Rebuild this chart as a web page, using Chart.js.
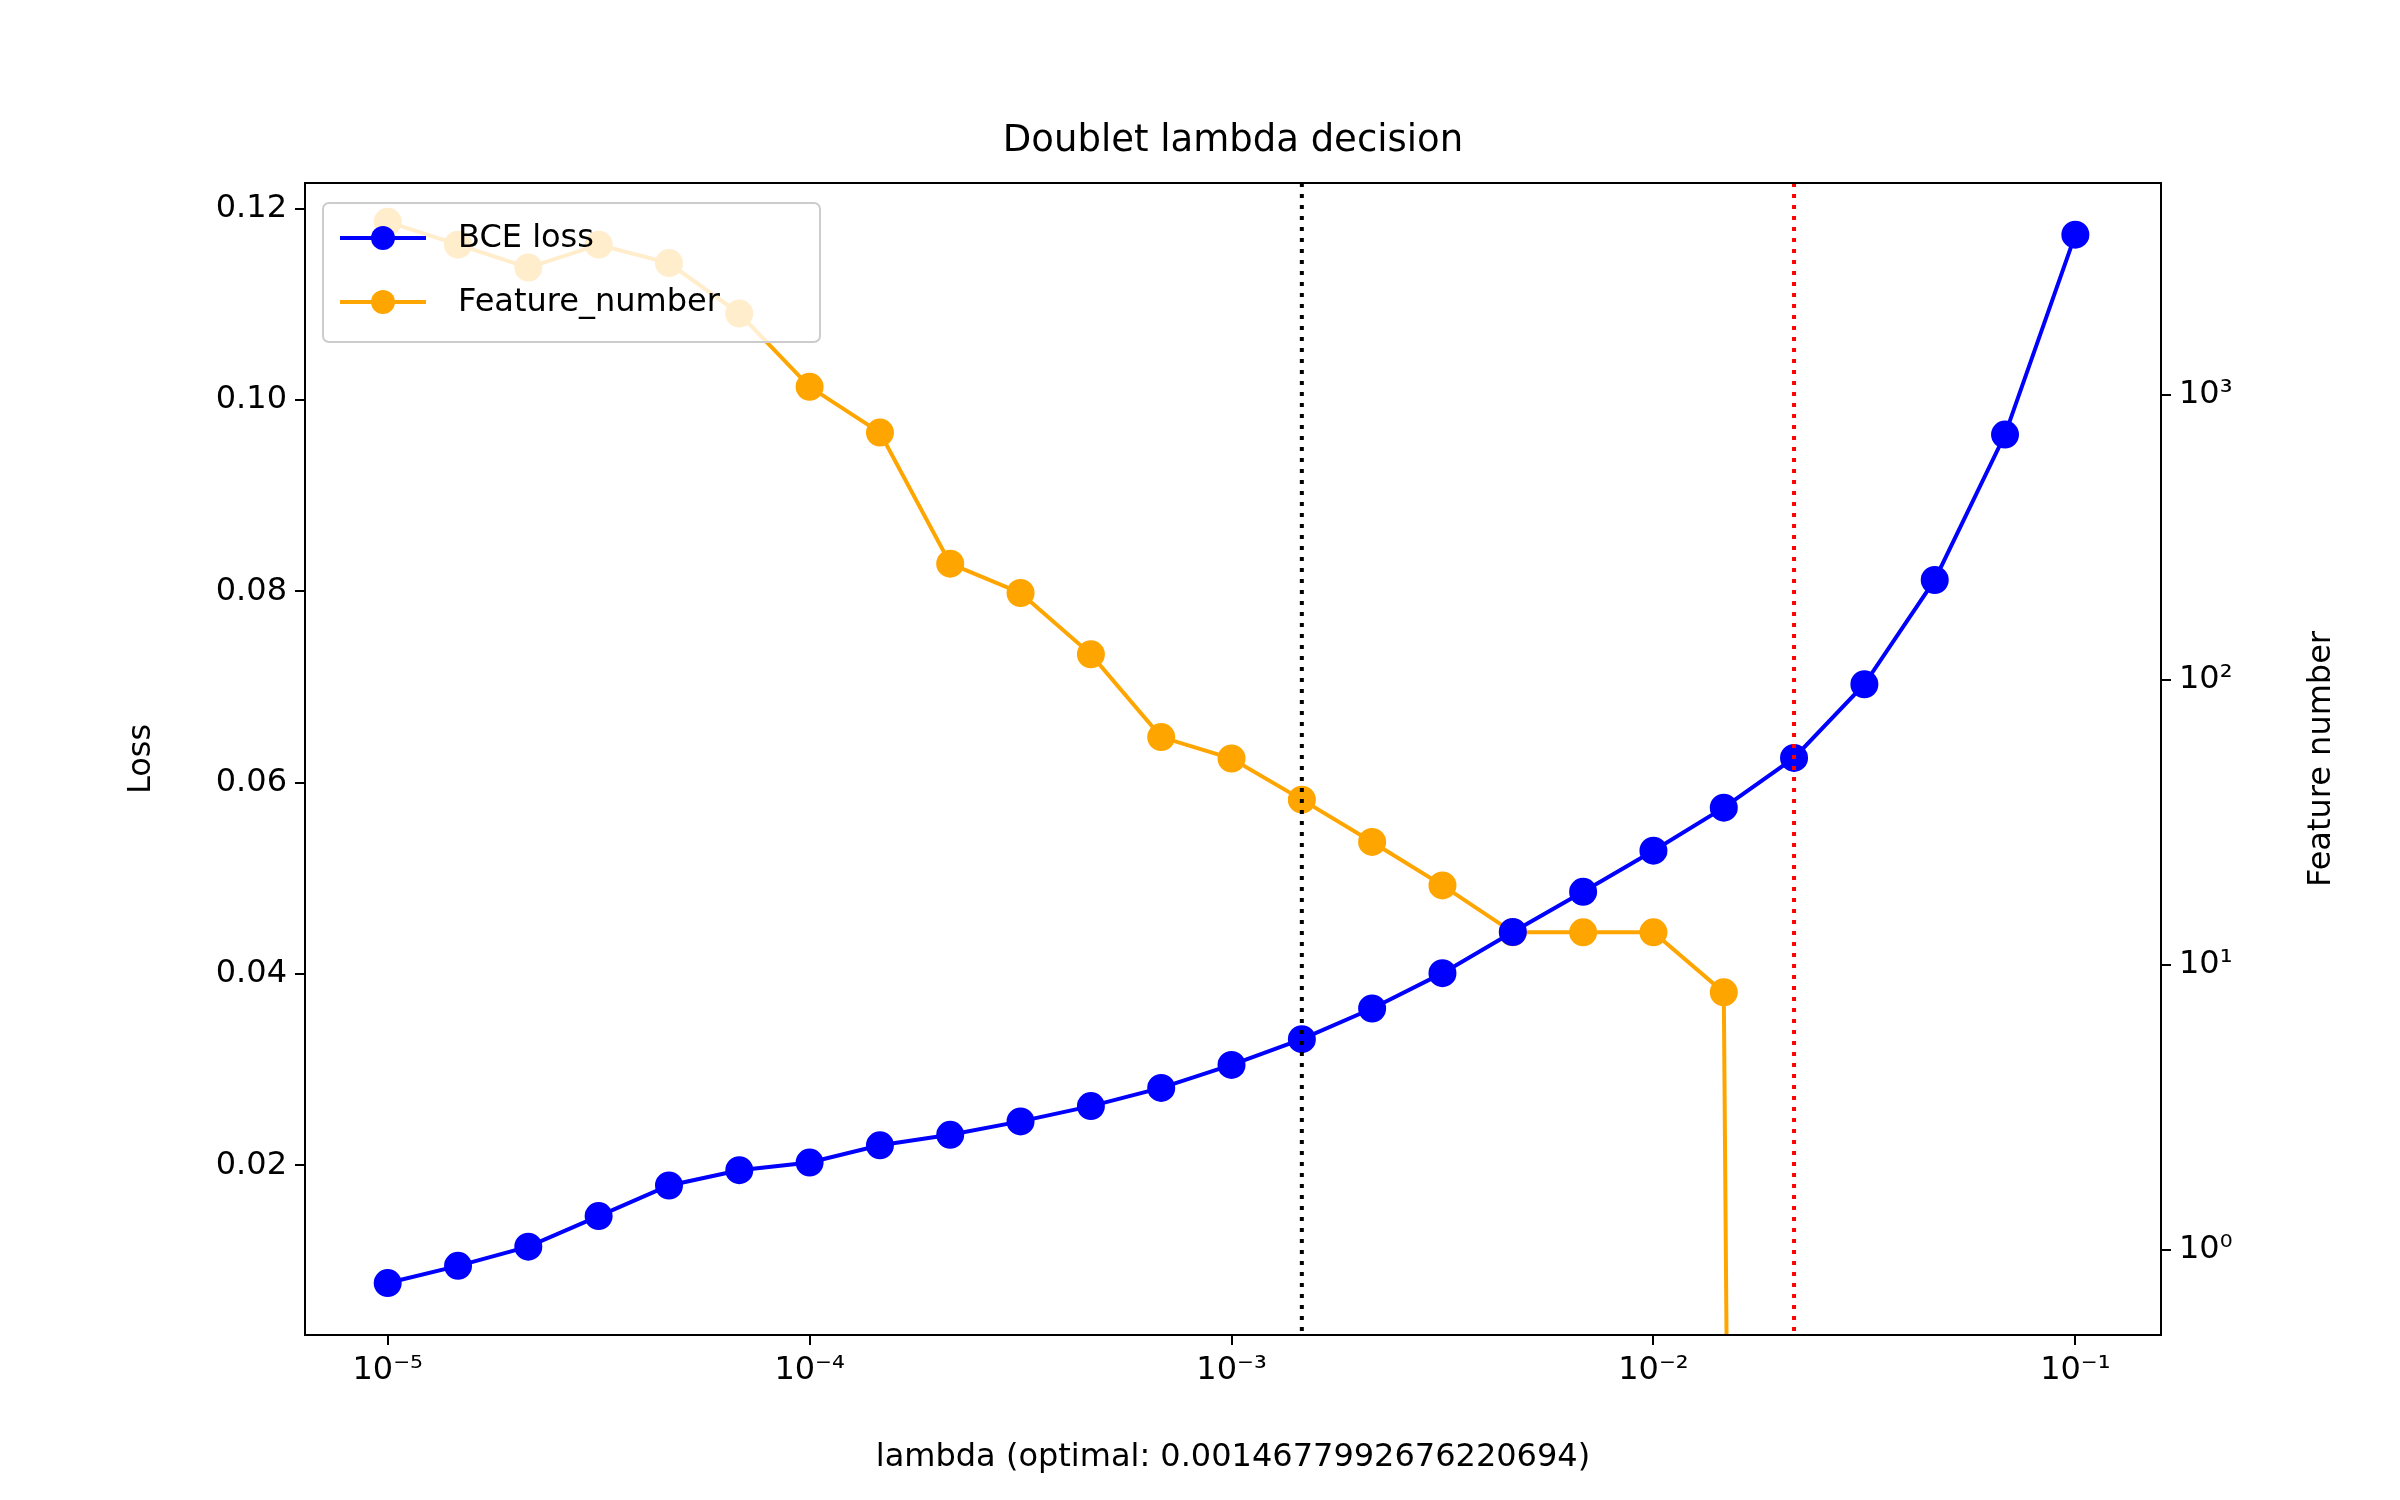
<!DOCTYPE html>
<html><head><meta charset="utf-8">
<script src="https://cdn.jsdelivr.net/npm/chart.js@4/dist/chart.umd.min.js"></script>
<style>html,body{margin:0;background:#fff}canvas{display:block}</style>
</head><body><canvas id="c" width="2400" height="1500" style="width:2400px;height:1500px"></canvas>
<script>
const lambdas = [1e-5,1.468e-5,2.154e-5,3.162e-5,4.642e-5,6.813e-5,1e-4,1.468e-4,2.154e-4,3.162e-4,4.642e-4,6.813e-4,1e-3,1.468e-3,2.154e-3,3.162e-3,4.642e-3,6.813e-3,1e-2,1.468e-2,2.154e-2,3.162e-2,4.642e-2,6.813e-2,1e-1];
const bceLoss = [0.0077,0.0095,0.0115,0.0147,0.0179,0.0195,0.0203,0.0221,0.0232,0.0246,0.0262,0.0281,0.0305,0.0332,0.0364,0.0401,0.0444,0.0486,0.0529,0.0574,0.0626,0.0703,0.0812,0.0964,0.1173];
const featureNumber = [4060,3375,2805,3375,2910,1935,1070,739,256,202,123,63,53,38,27,19,13,13,13,8,0,0,0,0,0];
const optimalLambda = 0.0014677992676220694;
const redLambda = 0.02154;
const xTitle = 'lambda (optimal: 0.0014677992676220694)';
const sup = {'-':'⁻','0':'⁰','1':'¹','2':'²','3':'³','4':'⁴','5':'⁵'};
const pow = v => '10' + String(Math.round(Math.log10(v))).split('').map(c=>sup[c]).join('');
const F = 'DejaVu Sans';
const fontT = {family:F,size:32};

const overlay = {
  id:'overlay',
  afterDatasetsDraw(ch){
    const {ctx, chartArea:a, scales:s} = ch;
    ctx.save();
    ctx.lineWidth = 4; ctx.setLineDash([4,7]);
    [[optimalLambda,'#000'],[redLambda,'#f00']].forEach(([v,c])=>{
      const x = s.x.getPixelForValue(v);
      ctx.strokeStyle=c; ctx.beginPath(); ctx.moveTo(x,a.top); ctx.lineTo(x,a.bottom); ctx.stroke();
    });
    ctx.setLineDash([]);
    ctx.strokeStyle='#000'; ctx.lineWidth=2;
    ctx.strokeRect(a.left,a.top,a.right-a.left,a.bottom-a.top);
    ctx.fillStyle='rgba(255,255,255,0.8)'; ctx.strokeStyle='#ccc'; ctx.lineWidth=2;
    ctx.beginPath(); ctx.roundRect(323,203,497,139,6); ctx.fill(); ctx.stroke();
    [['BCE loss','#0000ff',238],['Feature_number','#ffa500',302]].forEach(([t,c,y])=>{
      ctx.strokeStyle=c; ctx.fillStyle=c; ctx.lineWidth=4;
      ctx.beginPath(); ctx.moveTo(340,y); ctx.lineTo(426,y); ctx.stroke();
      ctx.beginPath(); ctx.arc(383,y,12,0,Math.PI*2); ctx.fill();
      ctx.fillStyle='#000'; ctx.font='32px "DejaVu Sans"'; ctx.textBaseline='middle'; ctx.textAlign='left';
      ctx.fillText(t,458,y+1);
    });
    ctx.textAlign='center'; ctx.textBaseline='middle';
    ctx.font='37px "DejaVu Sans"';
    ctx.fillText('Doublet lambda decision',(a.left+a.right)/2,141);
    ctx.font='32px "DejaVu Sans"';
    ctx.fillText(xTitle,(a.left+a.right)/2,1458);
    ctx.translate(142,(a.top+a.bottom)/2); ctx.rotate(-Math.PI/2); ctx.fillText('Loss',0,0);
    ctx.setTransform(1,0,0,1,0,0);
    ctx.translate(2322,(a.top+a.bottom)/2); ctx.rotate(-Math.PI/2); ctx.fillText('Feature number',0,0);
    ctx.restore();
  }
};

new Chart(document.getElementById('c'),{
  type:'line',
  data:{labels:lambdas,datasets:[
    {label:'BCE loss',data:lambdas.map((x,i)=>({x,y:bceLoss[i]})),yAxisID:'y',borderColor:'#0000ff',backgroundColor:'#0000ff',borderWidth:4,pointRadius:12,pointHoverRadius:12},
    {label:'Feature_number',data:lambdas.map((x,i)=>({x,y:featureNumber[i]>0?featureNumber[i]:1e-30})),yAxisID:'y1',borderColor:'#ffa500',backgroundColor:'#ffa500',borderWidth:4,pointRadius:12,pointHoverRadius:12}
  ]},
  options:{
    responsive:false,animation:false,devicePixelRatio:1,
    layout:{padding:{top:183,left:0,right:0,bottom:0}},
    plugins:{legend:{display:false},tooltip:{enabled:false}},
    scales:{
      x:{type:'logarithmic',min:Math.pow(10,-5.196),max:Math.pow(10,-0.797),
        afterBuildTicks:s=>{s.ticks=[1e-5,1e-4,1e-3,1e-2,1e-1].map(v=>({value:v}));},
        ticks:{callback:v=>pow(v),color:'#000',font:fontT,maxRotation:0,padding:6},
        grid:{drawOnChartArea:false,tickLength:10,color:'#000',lineWidth:2},border:{display:false},
        afterFit:s=>{s.height=165;}},
      y:{type:'linear',position:'left',min:0.00227,max:0.1227,
        afterBuildTicks:s=>{s.ticks=[0.02,0.04,0.06,0.08,0.10,0.12].map(v=>({value:v}));},
        ticks:{callback:v=>v.toFixed(2),color:'#000',font:fontT,padding:8},
        grid:{drawOnChartArea:false,tickLength:10,color:'#000',lineWidth:2},border:{display:false},
        afterFit:s=>{s.width=305;}},
      y1:{type:'logarithmic',position:'right',min:Math.pow(10,-0.30),max:Math.pow(10,3.745),
        afterBuildTicks:s=>{s.ticks=[1,10,100,1000].map(v=>({value:v}));},
        ticks:{callback:v=>pow(v),color:'#000',font:fontT,padding:8},
        grid:{drawOnChartArea:false,tickLength:10,color:'#000',lineWidth:2},border:{display:false},
        afterFit:s=>{s.width=239;}}
    }
  },
  plugins:[overlay]
});
</script></body></html>
